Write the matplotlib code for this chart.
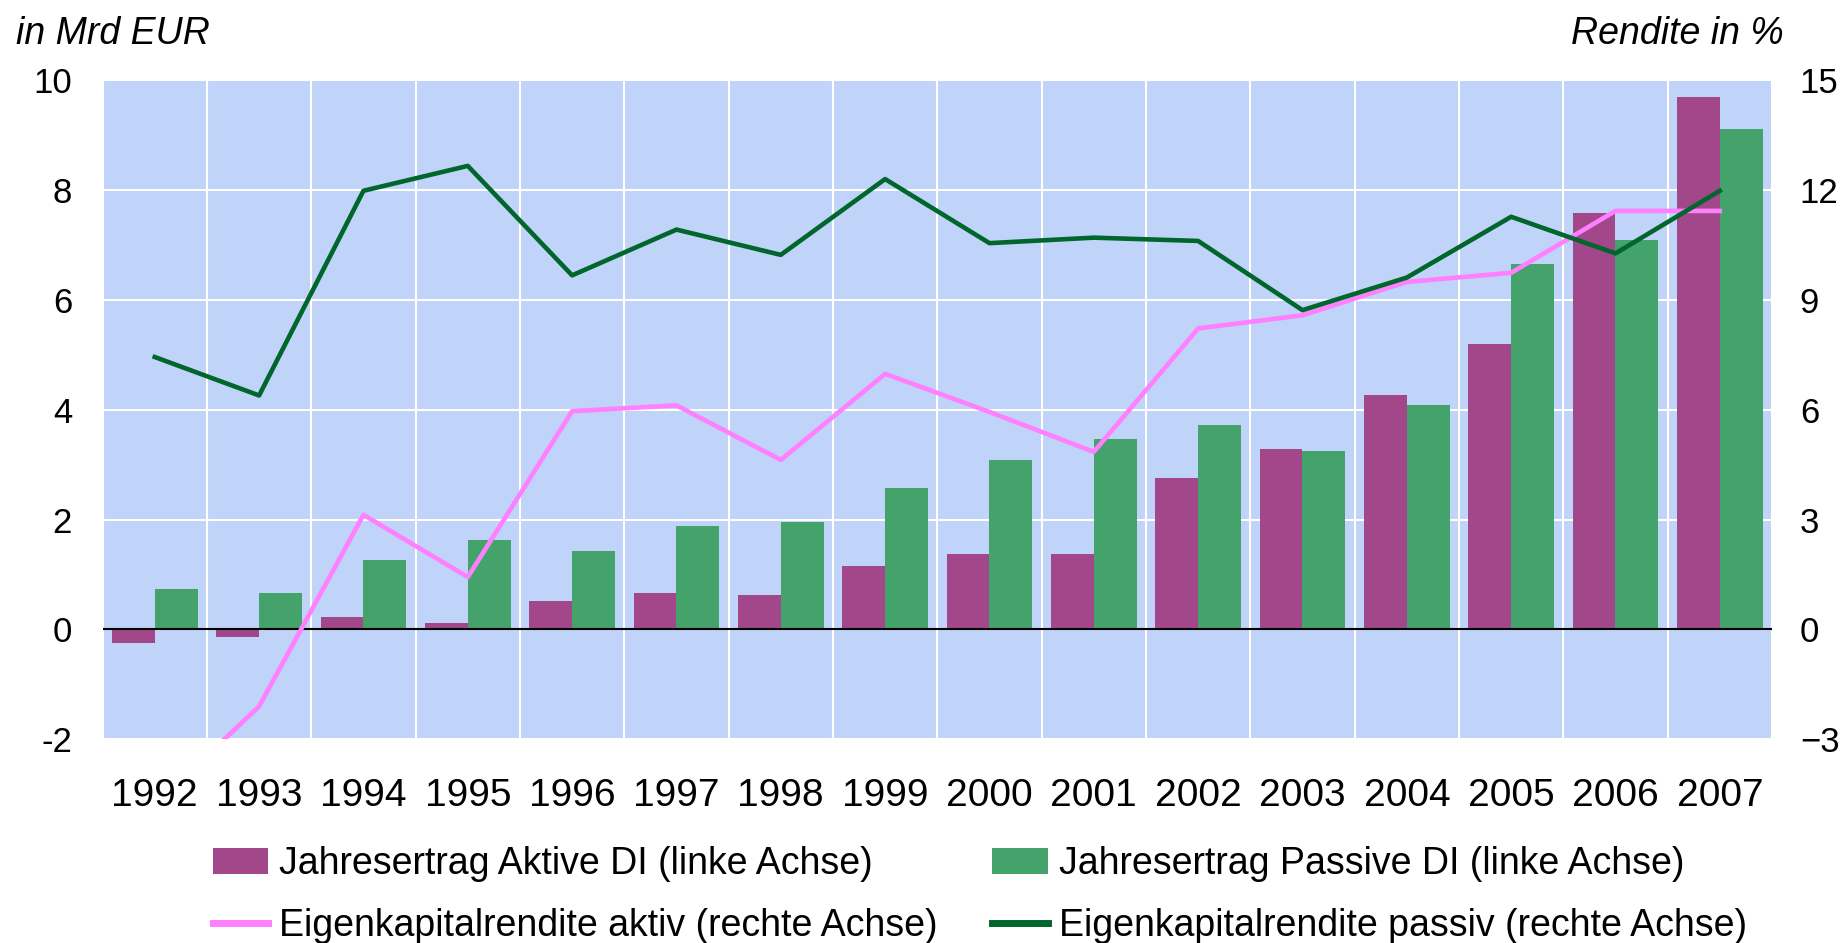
import matplotlib
matplotlib.use("Agg")
import matplotlib.pyplot as plt
import numpy as np
from matplotlib.patches import Patch
from matplotlib.lines import Line2D

plt.rcParams['font.family'] = ['Liberation Sans', 'DejaVu Sans']

years = [str(y) for y in range(1992, 2008)]
ertrag_aktiv = [-0.24, -0.13, 0.22, 0.12, 0.52, 0.66, 0.62, 1.16, 1.38, 1.38,
                2.75, 3.29, 4.26, 5.20, 7.59, 9.70]
ertrag_passiv = [0.73, 0.66, 1.27, 1.63, 1.42, 1.89, 1.95, 2.57, 3.08, 3.47,
                 3.73, 3.25, 4.09, 6.65, 7.09, 9.11]
rendite_aktiv = [-4.8, -2.10, 3.13, 1.43, 5.96, 6.12, 4.63, 6.98, 5.94, 4.85,
                 8.22, 8.58, 9.49, 9.74, 11.43, 11.43]
rendite_passiv = [7.44, 6.39, 11.98, 12.66, 9.67, 10.92, 10.23, 12.30, 10.55, 10.70,
                  10.61, 8.72, 9.61, 11.27, 10.27, 11.98]

labels = ["Jahresertrag Aktive DI (linke Achse)",
          "Jahresertrag Passive DI (linke Achse)",
          "Eigenkapitalrendite aktiv (rechte Achse)",
          "Eigenkapitalrendite passiv (rechte Achse)"]

c_purple = "#A2478A"
c_green = "#43A36A"
c_pink = "#FF80FF"
c_dgreen = "#00662C"
c_bg = "#C0D3F8"

W, H = 1849, 943
fig = plt.figure(figsize=(W / 100, H / 100), dpi=100)
L, R, T, B = 102.6, 1772, 80.2, 739.3
ax = fig.add_axes([L / W, 1 - B / H, (R - L) / W, (B - T) / H])
ax.set_facecolor(c_bg)

x = np.arange(len(years))
bw = 0.41
ax.bar(x - bw / 2, ertrag_aktiv, bw, color=c_purple, zorder=2)
ax.bar(x + bw / 2, ertrag_passiv, bw, color=c_green, zorder=2)
ax.axhline(0, color="black", lw=1.5, zorder=3)

ax.set_xlim(-0.5, len(years) - 0.5)
ax.set_ylim(-2, 10)
ax.set_yticks([-2, 0, 2, 4, 6, 8, 10])
ax.set_yticklabels(["-2", "0", "2", "4", "6", "8", "10"])
ax.set_xticks(x)
ax.set_xticklabels(years)
ax.set_xticks(np.arange(-0.5, len(years), 1.0), minor=True)
ax.grid(True, which="major", axis="y", color="white", lw=1.5, zorder=1)
ax.grid(True, which="minor", axis="x", color="white", lw=1.5, zorder=1)
ax.grid(False, which="major", axis="x")
ax.set_axisbelow(True)
for s in ax.spines.values():
    s.set_visible(False)
ax.tick_params(axis="y", length=0, labelsize=25, pad=22)
ax.tick_params(axis="x", which="both", length=0, labelsize=28, pad=28)

ax2 = ax.twinx()
ax2.set_ylim(-3, 15)
ax2.set_yticks([-3, 0, 3, 6, 9, 12, 15])
ax2.plot(x, rendite_aktiv, color=c_pink, lw=3.3, zorder=4)
ax2.plot(x, rendite_passiv, color=c_dgreen, lw=3.3, zorder=4)
for s in ax2.spines.values():
    s.set_visible(False)
ax2.tick_params(axis="y", length=0, labelsize=25, pad=20)
ax2.patch.set_visible(False)

fig.text(16 / W, 1 - 34 / H, "in Mrd EUR", fontsize=27, style="italic",
         ha="left", va="center")
fig.text(1784 / W, 1 - 34 / H, "Rendite in %", fontsize=27, style="italic",
         ha="right", va="center")

handles = [Patch(facecolor=c_purple), Line2D([], [], color=c_pink, lw=5),
           Patch(facecolor=c_green), Line2D([], [], color=c_dgreen, lw=5)]
hl = [labels[0], labels[2], labels[1], labels[3]]
fig.legend(handles, hl, ncol=2, loc="upper left",
           bbox_to_anchor=(213 / W, 1 - 846 / H), frameon=False,
           fontsize=27, borderpad=0, borderaxespad=0, handlelength=1.47,
           handletextpad=0.3, columnspacing=1.45, labelspacing=0.7)

fig.savefig("out.png", dpi=100)
